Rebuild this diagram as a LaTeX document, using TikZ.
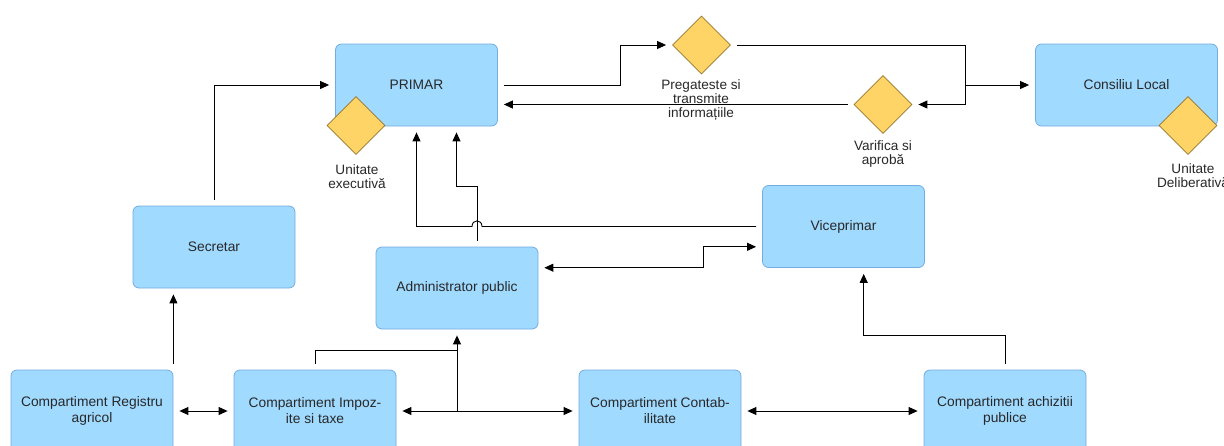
\documentclass[tikz,border=0pt]{standalone}
\usepackage{fontspec}
\setmainfont{Liberation Sans}
\usetikzlibrary{shapes.geometric,arrows.meta}
\definecolor{boxfill}{RGB}{160,218,255}
\definecolor{boxline}{RGB}{115,172,225}
\definecolor{diafill}{RGB}{255,212,102}
\definecolor{dialine}{RGB}{150,118,45}
\definecolor{txt}{RGB}{40,40,40}
\begin{document}
\begin{tikzpicture}[x=1pt,y=-1pt,
  box/.style={draw=boxline, fill=boxfill, rounded corners=6pt, minimum width=162pt, minimum height=82pt, inner sep=2pt, align=center, text=txt, font=\fontsize{13.8}{16}\selectfont, line width=0.8pt},
  dia/.style={diamond, draw=dialine, fill=diafill, minimum width=58pt, minimum height=58pt, inner sep=0pt, line width=0.8pt},
  lbl/.style={align=center, text=txt, font=\fontsize{13.6}{14}\selectfont, inner sep=0pt},
  conn/.style={line width=0.9pt, draw=black},
  gap/.style={shorten <=6pt, shorten >=6pt},
  arr/.style={conn, -{Triangle[length=9pt,width=8pt]}},
  darr/.style={conn, {Triangle[length=9pt,width=8pt]}-{Triangle[length=9pt,width=8pt]}}
]
\useasboundingbox (0,0) rectangle (1224,445);

% boxes
\node[box] (primar) at (416.5,85) {PRIMAR};
\node[box, minimum width=182pt] (consiliu) at (1126.5,85) {Consiliu Local};
\node[box] (secretar) at (214,247) {Secretar};
\node[box] (admin) at (457,288) {Administrator public};
\node[box] (vice) at (843.5,226.5) {Viceprimar};
\node[box] (registru) at (92,411) {Compartiment Registru\\agricol};
\node[box] (impozite) at (315,411) {Compartiment Impoz-\\ite si taxe};
\node[box] (contab) at (660,411) {Compartiment Contab-\\ilitate};
\node[box] (achiz) at (1005,411) {Compartiment achizitii\\publice};

% diamonds and labels
\node[dia] (dexec) at (356,125.5) {};
\node[lbl] (lexec) at (357,177) {Unitate\\executivă};
\node[dia] (dprep) at (701.5,45) {};
\node[lbl] (lprep) at (701,100) {Pregateste si\\transmite\\informațiile};
\node[dia] (dverif) at (883,104.5) {};
\node[lbl] (lverif) at (883,154) {Varifica si\\aprobă};
\node[dia] (ddelib) at (1188,125.5) {};
\node[lbl] (ldelib) at (1193,176) {Unitate\\Deliberativă};

% connectors
\draw[arr, gap] (secretar.north) |- (primar.west);
\draw[arr, gap] (primar.east) -- (620,85) |- (dprep.west);
\draw[arr, gap] (dprep.east) -| (965,104.5) -- (dverif.east);
\coordinate (j1) at (965,85);
\draw[arr, shorten >=6pt] (j1) -- (consiliu.west);
\draw[arr, gap] (dverif.west) -- (primar.east |- dverif.west);

\draw[arr, gap] (vice.west) -- (482,226.5) .. controls (482,219) and (472,219) .. (472,226.5) -- (416.5,226.5) -- (primar.south);
\draw[arr, gap] (admin.64) |- (primar.-46 |- 0,186) -- (primar.-46);
\draw[darr, gap] (admin.14.5) -- (admin.14.5 -| 703,0) |- (vice.194);

\draw[arr, gap] (registru.north east) -- (registru.north east |- secretar.south);
\draw[darr, gap] (registru.east) -- (impozite.west);
\draw[darr, gap] (impozite.east) -- (contab.west);
\coordinate (j2) at (457,411);
\draw[arr, shorten >=6pt] (j2) -- (admin.south);
\draw[conn, shorten <=6pt] (impozite.north) |- (457,350);
\draw[darr, gap] (contab.east) -- (achiz.west);
\draw[arr, gap] (achiz.north) -- (achiz.north |- 0,335) -| (vice.-64.6);
\end{tikzpicture}
\end{document}
